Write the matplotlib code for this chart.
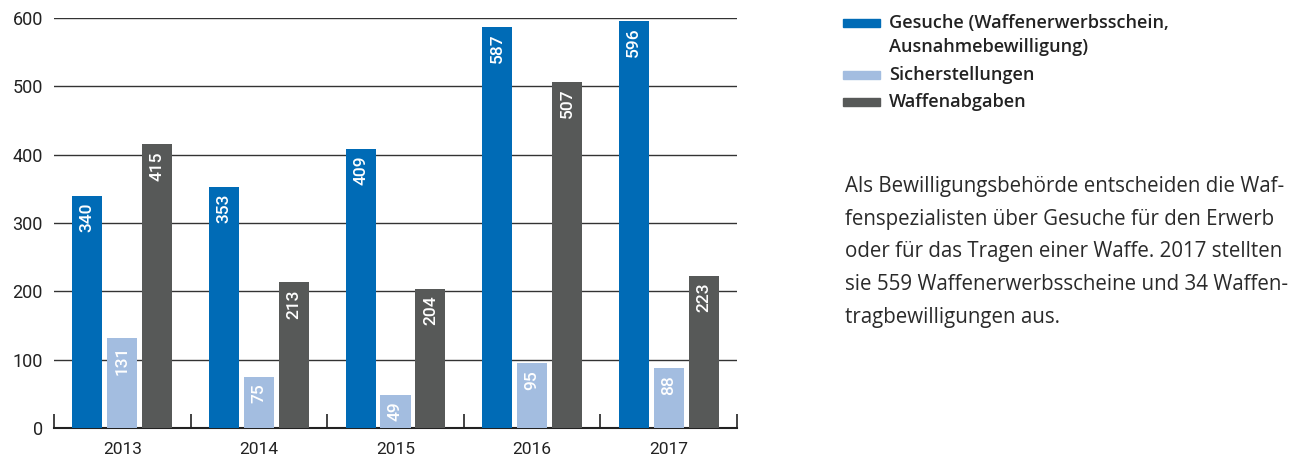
import matplotlib
matplotlib.use("Agg")
import matplotlib.pyplot as plt
import numpy as np

years = ["2013", "2014", "2015", "2016", "2017"]
gesuche = [340, 353, 409, 587, 596]
sicherstellungen = [131, 75, 49, 95, 88]
abgaben = [415, 213, 204, 507, 223]
legend_lines = [["Gesuche (Waffenerwerbsschein,", "Ausnahmebewilligung)"], ["Sicherstellungen"], ["Waffenabgaben"]]
colors = ["#006BB6", "#A3BDE0", "#575958"]
yticks = [0, 100, 200, 300, 400, 500, 600]
paragraph_lines = ["Als Bewilligungsbehörde entscheiden die Waf-",
                   "fenspezialisten über Gesuche für den Erwerb",
                   "oder für das Tragen einer Waffe. 2017 stellten",
                   "sie 559 Waffenerwerbsscheine und 34 Waffen-",
                   "tragbewilligungen aus."]

plt.rcParams['font.family'] = ['Roboto', 'DejaVu Sans']
side_font = ['Open Sans', 'DejaVu Sans']

W, H = 1309, 466
fig = plt.figure(figsize=(W/100, H/100), dpi=100)
ax = fig.add_axes([54/W, 1-428/H, (737-54)/W, (428-18)/H])

x = np.arange(len(years))
bw = 0.22
step = 0.256
for i, (vals, c) in enumerate(zip([gesuche, sicherstellungen, abgaben], colors)):
    pos = x + (i-1)*step
    ax.bar(pos, vals, width=bw, color=c, zorder=3)
    for p, v in zip(pos, vals):
        ax.annotate(str(v), (p, v), xytext=(0, -5), textcoords='offset points',
                    rotation=90, ha='center', va='top', color='white',
                    fontsize=12.5, fontweight='medium', zorder=4)

ax.set_xlim(-0.5, len(years)-0.5)
ax.set_ylim(0, 600)
ax.set_yticks(yticks)
ax.set_yticklabels([str(t) for t in yticks], fontsize=13, color='#222222')
ax.set_xticks(x)
ax.set_xticklabels(years, fontsize=12.5, color='#222222')
ax.tick_params(axis='both', length=0)
ax.tick_params(axis='x', pad=10)
ax.tick_params(axis='y', pad=8)
ax.set_xticks(np.arange(-0.5, len(years)), minor=True)
ax.tick_params(axis='x', which='minor', direction='in', length=10, width=1.2, color='#222222')
for t in yticks[1:]:
    ax.axhline(t, color='#333333', lw=1.0, zorder=1)
for s in ['top', 'right', 'left']:
    ax.spines[s].set_visible(False)
ax.spines['bottom'].set_color('#222222')
ax.spines['bottom'].set_linewidth(1.5)

# legend
leg_rows = [[23, 47], [75], [102]]
for rows, c, lines in zip(leg_rows, colors, legend_lines):
    fig.patches.append(plt.Rectangle((843/W, 1-(rows[0]+4)/H), 37/W, 8/H,
                                     transform=fig.transFigure, color=c))
    for ly, txt in zip(rows, lines):
        fig.text(889/W, 1-ly/H, txt, ha='left', va='center', fontsize=13.1,
                 fontweight='semibold', color='#222222', family=side_font)

# paragraph
for k, line in enumerate(paragraph_lines):
    fig.text(845/W, 1-(186+33*k)/H, line, ha='left', va='center', fontsize=14.8,
             color='#2a2a2a', family=side_font)

fig.savefig("out.png", dpi=100)
